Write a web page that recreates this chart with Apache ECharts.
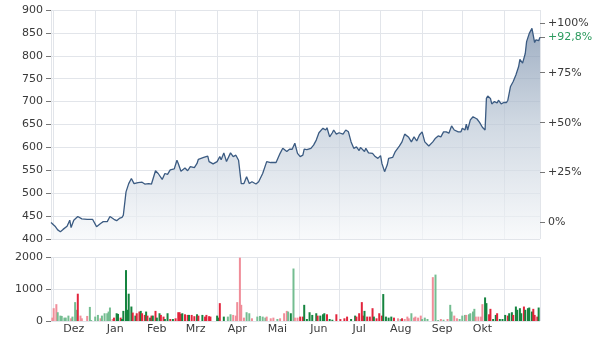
<!DOCTYPE html>
<html>
<head>
<meta charset="UTF-8">
<title>Kurs</title>
<script src="https://cdn.jsdelivr.net/npm/echarts@6/dist/echarts.min.js"></script>
<style>
  * { margin: 0; padding: 0; }
  #chart { width: 604px; height: 344px; }
</style>
</head>
<body>
<div id="chart"></div>
<script>
// erster Tag im Chart, danach jeder Kalendertag
var startDate = '2023-11-29';
var dayCount = 366;
var monthLabels = ['Jan', 'Feb', 'Mrz', 'Apr', 'Mai', 'Jun', 'Jul', 'Aug', 'Sep', 'Okt', 'Nov', 'Dez'];

// Kurs: Tag seit Start -> Schlusskurs
var priceDay = [
  0, 3, 5, 7, 9, 12, 14, 15, 17, 20,
  23, 27, 31, 34, 37, 39, 42, 44, 47, 49,
  51, 53, 54, 56, 58, 60, 62, 65, 68, 70,
  73, 75, 78, 80, 83, 85, 87, 89, 92, 94,
  95, 97, 100, 102, 104, 107, 109, 110, 112, 114,
  117, 118, 121, 124, 126, 127, 129, 131, 134, 136,
  138, 140, 141, 142, 144, 146, 148, 150, 153, 155,
  158, 161, 164, 168, 169, 171, 173, 176, 178, 180,
  182, 184, 186, 188, 189, 191, 194, 196, 198, 200,
  203, 205, 206, 208, 210, 211, 213, 215, 218, 220,
  222, 224, 226, 228, 230, 231, 234, 235, 237, 240,
  242, 244, 246, 247, 249, 251, 252, 255, 257, 260,
  262, 264, 267, 269, 271, 273, 275, 277, 279, 280,
  282, 285, 287, 289, 291, 293, 295, 297, 299, 301,
  304, 306, 307, 309, 310, 311, 313, 315, 316, 318,
  320, 322, 324, 325, 326, 328, 329, 331, 333, 334,
  336, 338, 340, 341, 343, 345, 347, 349, 350, 352,
  354, 355, 357, 359, 360, 361, 362, 364, 365
];
var priceVal = [
  436, 428, 420, 416, 421, 428, 441, 425, 441, 449,
  444, 443, 443, 427, 434, 438, 438, 449, 443, 440,
  445, 447, 452, 503, 521, 532, 521, 523, 524, 520,
  521, 520, 549, 543, 530, 543, 541, 551, 553, 572,
  565, 548, 555, 549, 558, 556, 565, 574, 576, 578,
  581, 569, 564, 569, 580, 573, 588, 569, 588, 580,
  583, 572, 569, 521, 521, 536, 521, 525, 520, 525,
  543, 569, 567, 567, 564, 587, 598, 591, 596, 596,
  609, 587, 580, 583, 596, 595, 598, 605, 616, 632,
  642, 638, 643, 623, 632, 638, 629, 632, 629, 638,
  634, 612, 598, 601, 593, 600, 591, 598, 588, 587,
  580, 576, 582, 565, 547, 562, 576, 578, 591, 603,
  612, 629, 622, 612, 623, 614, 627, 634, 612, 614,
  603, 612, 620, 625, 623, 634, 634, 631, 647, 638,
  634, 634, 642, 638, 651, 638, 660, 667, 671, 662,
  654, 644, 638, 707, 712, 707, 695, 700, 697, 703,
  695, 698, 698, 703, 733, 744, 758, 776, 792, 784,
  805, 831, 849, 860, 856, 829, 835, 833, 840.6
];

// Umsatz: Tag seit Start, Stueck, Farbe (G/R kraeftig, g/r hell)
var volDay = [
  1, 2, 4, 5, 7, 8, 10, 11, 13, 15,
  16, 18, 19, 20, 22, 23, 27, 29, 30, 33,
  35, 37, 38, 40, 42, 43, 44, 46, 47, 49,
  50, 52, 53, 54, 56, 57, 58, 60, 61, 63,
  64, 66, 67, 68, 70, 71, 72, 74, 75, 76,
  78, 79, 81, 82, 84, 85, 87, 89, 91, 93,
  95, 96, 97, 98, 100, 102, 103, 105, 107, 109,
  110, 113, 115, 116, 118, 119, 124, 125, 126, 129,
  132, 134, 136, 138, 139, 141, 142, 144, 146, 148,
  150, 154, 156, 158, 160, 161, 164, 166, 169, 171,
  174, 176, 177, 179, 181, 182, 184, 186, 188, 189,
  191, 193, 195, 198, 199, 201, 203, 204, 206, 208,
  210, 213, 216, 219, 221, 224, 227, 228, 230, 232,
  233, 234, 236, 238, 240, 241, 243, 245, 247, 248,
  250, 252, 254, 256, 259, 261, 262, 264, 266, 267,
  269, 271, 272, 274, 276, 277, 279, 281, 285, 287,
  289, 291, 293, 296, 298, 299, 301, 303, 305, 307,
  309, 310, 312, 313, 315, 316, 317, 319, 321, 322,
  324, 325, 327, 328, 330, 332, 333, 335, 337, 339,
  341, 342, 344, 345, 347, 348, 350, 351, 353, 354,
  356, 357, 359, 360, 361, 363, 364
];
var volVal = [
  105, 400, 526, 274, 168, 158, 105, 105, 168, 84,
  137, 590, 350, 853, 168, 84, 158, 440, 30, 137,
  190, 84, 168, 242, 242, 295, 421, 63, 105, 242,
  221, 105, 63, 316, 1590, 350, 853, 452, 263, 168,
  242, 295, 316, 242, 190, 295, 168, 105, 168, 168,
  316, 105, 242, 190, 137, 63, 242, 63, 63, 84,
  274, 274, 220, 242, 210, 190, 190, 190, 150, 210,
  168, 190, 137, 190, 150, 137, 168, 105, 558, 137,
  137, 210, 190, 168, 590, 1980, 505, 105, 274, 242,
  84, 137, 158, 137, 105, 137, 84, 105, 63, 84,
  242, 316, 295, 242, 1640, 105, 105, 137, 137, 505,
  63, 274, 190, 242, 168, 168, 210, 242, 210, 63,
  40, 210, 60, 84, 137, 63, 168, 137, 242, 590,
  168, 316, 137, 137, 400, 137, 84, 242, 168, 842,
  137, 105, 137, 105, 84, 63, 84, 63, 137, 84,
  242, 105, 137, 105, 168, 60, 105, 63, 1370, 1450,
  30, 63, 40, 63, 505, 295, 168, 84, 63, 168,
  190, 190, 210, 242, 295, 380, 137, 137, 137, 526,
  737, 558, 210, 380, 63, 190, 242, 63, 63, 190,
  168, 242, 274, 190, 452, 350, 400, 242, 452, 350,
  400, 421, 295, 380, 190, 137, 421
];
var volTone = (
  'rrrggggggr' + 'gggRrrrggg' + 'grgggggrRG' + 'GRGGGGGGRG' + 'RRGRRGRGRG' +
  'RGGRRGGRGR' + 'RRRGRRGRRG' + 'RGRRRRGGRG' + 'ggrrrrrrgg' + 'rggggrrrgr' +
  'rrgGgrrRRG' + 'GGGGRGGGRG' + 'GRRRRGGRRR' + 'RGRRRGRRRG' + 'GGGRrgRrrr' +
  'grrrrgggrg' + 'grgrggrrgg' + 'grggggrrrr' + 'GGRRGGRGGG' + 'RGGRGGGGRG' +
  'GGGRRRG'
).split('');

var pctTicks = [0, 25, 50, 75, 100];

var toneColor = { G: '#15843f', g: '#74bd91', R: '#e2243c', r: '#f08d99' };
var font = 'DejaVu Sans';
var textColor = '#3a3a3a';
var gridColor = '#e2e5ea';

// Kalendertage als Kategorien
var days = [];
var t0 = Date.parse(startDate + 'T00:00:00Z');
for (var i = 0; i < dayCount; i++) {
  days.push(new Date(t0 + i * 86400000).toISOString().slice(0, 10));
}

var priceData = days.map(function () { return null; });
priceDay.forEach(function (d, i) { priceData[d] = priceVal[i]; });

var volData = days.map(function () { return null; });
volDay.forEach(function (d, i) {
  volData[d] = { value: volVal[i], itemStyle: { color: toneColor[volTone[i]] } };
});

var base = priceVal[0];
var last = priceVal[priceVal.length - 1];
var lastPct = (last / base - 1) * 100;
var pctValues = pctTicks.concat([lastPct]);

function isMonthStart(idx, val) {
  return val.slice(8) === '01' || idx === 0 || idx === dayCount - 1;
}
function isMidMonth(idx, val) {
  return val.slice(8) === '16' && idx + 16 <= dayCount - 1;
}
function plain(v) { return String(v); }

var myChart = echarts.init(document.getElementById('chart'));

var option = {
  animation: false,
  textStyle: { fontFamily: font },
  grid: [
    { left: 51, right: 64, top: 10, height: 229 },
    { left: 51, right: 64, top: 257, height: 64 }
  ],
  xAxis: [
    {
      type: 'category', gridIndex: 0, data: days, boundaryGap: false,
      axisLine: { show: false }, axisTick: { show: false }, axisLabel: { show: false },
      splitLine: { show: true, interval: isMonthStart, lineStyle: { color: gridColor } }
    },
    {
      type: 'category', gridIndex: 1, data: days, boundaryGap: false,
      axisLine: { show: false }, axisTick: { show: false },
      axisLabel: {
        interval: isMidMonth, margin: 3, fontSize: 11, color: textColor, fontFamily: font,
        formatter: function (val) { return monthLabels[+val.slice(5, 7) - 1]; }
      },
      splitLine: { show: true, interval: isMonthStart, lineStyle: { color: gridColor } }
    }
  ],
  yAxis: [
    {
      type: 'value', gridIndex: 0, min: 400, max: 900, interval: 50,
      axisLine: { show: false },
      axisTick: { show: true, length: 5, lineStyle: { color: '#777' } },
      axisLabel: { fontSize: 11, color: textColor, margin: 8, fontFamily: font, formatter: plain },
      splitLine: { lineStyle: { color: gridColor } }
    },
    {
      type: 'value', gridIndex: 0, position: 'right',
      min: (400 / base - 1) * 100, max: (900 / base - 1) * 100,
      axisLine: { show: false },
      splitLine: { show: false },
      axisTick: { show: true, length: 5, customValues: pctValues, lineStyle: { color: '#777' } },
      axisLabel: {
        customValues: pctValues, fontSize: 11, color: textColor, margin: 8, fontFamily: font,
        formatter: function (v) {
          if (Math.abs(v - lastPct) < 0.01) {
            return '{g|+' + lastPct.toFixed(1).replace('.', ',') + '%}';
          }
          return (v > 0 ? '+' : '') + Math.round(v) + '%';
        },
        rich: { g: { color: '#2d9b5f', fontSize: 11, fontFamily: font } }
      }
    },
    {
      type: 'value', gridIndex: 1, min: 0, max: 2000, interval: 1000,
      axisLine: { show: false },
      axisTick: { show: true, length: 5, lineStyle: { color: '#777' } },
      axisLabel: { fontSize: 11, color: textColor, margin: 8, fontFamily: font, formatter: plain },
      splitLine: { lineStyle: { color: gridColor } }
    }
  ],
  series: [
    {
      type: 'line', xAxisIndex: 0, yAxisIndex: 0,
      data: priceData, connectNulls: true, showSymbol: false,
      lineStyle: { color: '#3b5b82', width: 1.3 },
      areaStyle: {
        color: {
          type: 'linear', x: 0, y: 10, x2: 0, y2: 239, global: true,
          colorStops: [
            { offset: 0, color: '#6a82a1' },
            { offset: 0.5, color: '#bcc8d6' },
            { offset: 1, color: '#f5f7f9' }
          ]
        }
      }
    },
    {
      type: 'bar', xAxisIndex: 1, yAxisIndex: 2,
      data: volData, barWidth: 2
    }
  ]
};

myChart.setOption(option);
</script>
</body>
</html>
